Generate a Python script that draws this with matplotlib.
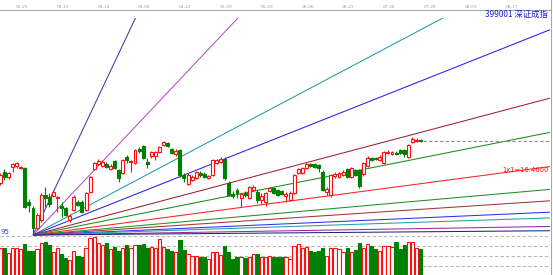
import matplotlib
matplotlib.use("Agg")
import matplotlib.pyplot as plt
from matplotlib.lines import Line2D
import numpy as np

# ---------------- data ----------------
opens = [10215, 10325, 10275, 10375, 10385, 10365, 10365, 10025, 9965, 9765,
         9845, 10095, 10075, 10085, 10065, 9985, 9965, 9845, 9945, 10025,
         10025, 9945, 10125, 10355, 10405, 10385, 10405, 10355, 10435, 10345,
         10315, 10475, 10425, 10415, 10555, 10585, 10425, 10485, 10485, 10525,
         10595, 10615, 10555, 10505, 10545, 10295, 10205, 10245, 10265, 10315,
         10305, 10265, 10295, 10415, 10425, 10455, 10215, 10105, 10145, 10065,
         10115, 10065, 10145, 10125, 10045, 10025, 10135, 10165, 10145, 10135,
         10085, 10045, 10115, 10315, 10315, 10365, 10405, 10405, 10395, 10325,
         10125, 10095, 10285, 10275, 10295, 10355, 10275, 10345, 10345, 10305,
         10385, 10465, 10465, 10445, 10415, 10515, 10505, 10515, 10545, 10545,
         10475, 10625, 10635, 10645]
highs = [10315, 10355, 10325, 10415, 10425, 10385, 10375, 10055, 9985, 9915,
         10115, 10175, 10115, 10145, 10085, 10025, 9975, 9905, 10095, 10045,
         10045, 10125, 10285, 10425, 10455, 10445, 10425, 10405, 10445, 10355,
         10455, 10495, 10445, 10555, 10575, 10595, 10465, 10535, 10535, 10585,
         10635, 10625, 10565, 10555, 10555, 10315, 10315, 10295, 10335, 10335,
         10325, 10295, 10455, 10455, 10475, 10475, 10235, 10135, 10165, 10115,
         10135, 10185, 10195, 10145, 10115, 10125, 10175, 10175, 10155, 10145,
         10125, 10135, 10305, 10365, 10375, 10415, 10415, 10415, 10405, 10345,
         10175, 10305, 10325, 10325, 10345, 10365, 10375, 10355, 10355, 10425,
         10485, 10475, 10475, 10495, 10535, 10545, 10535, 10535, 10555, 10555,
         10605, 10675, 10665, 10655]
lows = [10195, 10245, 10255, 10325, 10365, 10355, 9965, 9925, 9695, 9745,
        9825, 9975, 9975, 10075, 9925, 9875, 9885, 9825, 9935, 9985,
        9915, 9935, 10115, 10345, 10395, 10375, 10365, 10345, 10355, 10225,
        10305, 10415, 10325, 10405, 10515, 10455, 10365, 10465, 10445, 10515,
        10585, 10575, 10505, 10485, 10275, 10225, 10195, 10235, 10255, 10275,
        10265, 10255, 10285, 10405, 10415, 10245, 10085, 10065, 10065, 9975,
        10075, 10055, 10135, 10015, 10005, 9985, 10125, 10105, 10085, 10095,
        10025, 10035, 10105, 10305, 10305, 10355, 10375, 10365, 10325, 10135,
        10095, 10075, 10265, 10265, 10285, 10265, 10265, 10285, 10165, 10285,
        10375, 10435, 10445, 10435, 10405, 10505, 10495, 10495, 10505, 10475,
        10465, 10615, 10625, 10625]
closes = [10295, 10275, 10315, 10405, 10415, 10375, 9975, 9995, 9765, 9895,
          10095, 10065, 10005, 10125, 10075, 9965, 9895, 9885, 10075, 9995,
          9925, 10115, 10275, 10415, 10435, 10425, 10375, 10385, 10365, 10265,
          10445, 10445, 10435, 10545, 10535, 10465, 10405, 10525, 10525, 10575,
          10625, 10585, 10515, 10535, 10295, 10265, 10295, 10275, 10325, 10295,
          10275, 10285, 10445, 10445, 10455, 10265, 10095, 10085, 10115, 10105,
          10095, 10175, 10175, 10045, 10085, 10115, 10165, 10115, 10095, 10105,
          10105, 10115, 10295, 10355, 10365, 10405, 10385, 10375, 10365, 10145,
          10155, 10295, 10305, 10315, 10325, 10275, 10365, 10295, 10185, 10415,
          10465, 10445, 10455, 10475, 10525, 10525, 10525, 10505, 10515, 10505,
          10595, 10655, 10645, 10635]
volumes = [280, 280, 230, 280, 280, 270, 320, 250, 250, 270,
           330, 340, 310, 240, 280, 220, 180, 160, 250, 200,
           190, 280, 380, 390, 330, 310, 330, 270, 290, 250,
           280, 310, 280, 310, 310, 320, 280, 290, 280, 370,
           290, 270, 250, 240, 360, 260, 220, 200, 200, 190,
           190, 170, 240, 240, 210, 300, 240, 170, 190, 190,
           180, 190, 220, 220, 190, 190, 200, 190, 190, 190,
           190, 170, 300, 320, 280, 290, 250, 240, 250, 280,
           200, 280, 280, 270, 240, 280, 240, 260, 330, 280,
           320, 300, 270, 250, 300, 300, 290, 340, 270, 310,
           340, 340, 280, 270]

date_labels = ["02-25", "03-10", "03-24", "04-08", "04-22", "05-09", "05-23",
               "06-06", "06-22", "07-06", "07-20", "08-03", "08-17"]
date_label_idx = [6, 16, 26, 36, 46, 56, 66, 76, 86, 96, 106, 116, 126]

fan_ratios = [16, 8, 4, 3, 2, 1.5, 1, 2/3, 1/2, 1/3, 1/4, 1/8, 1/16]
fan_colors = ["#3a3aa0", "#b84cc8", "#1f9f9f", "#2222f0", "#a0202c", "#159015",
              "#ff2020", "#1f8f25", "#a33535", "#3030f0", "#22a0a0", "#9a2a9a", "#22227a"]
base_slope = 5.4          # 1x1 slope (price per bar)
pivot_idx = 8
pivot_price = 9695

title_text = "399001 深证成指"
gann_label = "1x1=16.4600"
low_label = "95"

# ---------------- figure ----------------
W, H = 553, 275
fig = plt.figure(figsize=(W / 100, H / 100), dpi=100)
fig.patch.set_facecolor("white")

RED = "#ff1010"
GREEN = "#008000"

ax = fig.add_axes([0, 39 / H, 550 / W, 218 / H])
axv = fig.add_axes([0, -1 / H, 550 / W, 40 / H])

xmin, xmax = -0.09, 134.72
ax.set_xlim(xmin, xmax)
axv.set_xlim(xmin, xmax)
ax.set_ylim(9685, 11865)
axv.set_ylim(0, 402)

o = np.array(opens); c = np.array(closes); h = np.array(highs); l = np.array(lows)
idx = np.arange(len(c))
up = c >= o
edge = [RED if u else GREEN for u in up]
face = ["white" if u else GREEN for u in up]

# fan lines
for r, col in zip(fan_ratios, fan_colors):
    s = r * base_slope
    ax.plot([pivot_idx, xmax], [pivot_price, pivot_price + s * (xmax - pivot_idx)],
            color=col, lw=0.75, zorder=1, solid_capstyle="butt")

# candles
ax.vlines(idx, l, h, colors=edge, lw=0.8, zorder=2)
bottoms = np.minimum(o, c)
heights = np.maximum(np.abs(c - o), 6)
ax.bar(idx, heights, bottom=bottoms, width=0.72, color=face, edgecolor=edge,
       linewidth=0.8, zorder=3)

# last price dashed line
ax.hlines(c[-1], idx[-1] + 0.6, xmax, colors="#909090", lw=0.8,
          linestyles=(0, (3, 2)), zorder=1)

# texts
ax.text(xmax - 0.3, 10372, gann_label, ha="right", va="top", color=RED,
        fontsize=4.9, zorder=5)
ax.text(0.0, 9728, low_label, ha="left", va="center", color="#3050c0",
        fontsize=5, zorder=5)
fig.text(548 / W, 1 - 14 / H, title_text, ha="right", va="center", color="#2020d0",
         fontsize=6, family=["Noto Sans CJK SC", "DejaVu Sans"])

# date ticks on top
ax.xaxis.tick_top()
ax.set_xticks([i - 0.7 for i in date_label_idx])
ax.set_xticklabels(date_labels)
ax.tick_params(axis="x", length=0, pad=6.5, labelsize=3.2, labelcolor="#a0a0a0")
ax.set_yticks([])
for sp in ax.spines.values():
    sp.set_visible(False)

# volume
axv.bar(idx, volumes, width=0.8, color=face, edgecolor=edge, linewidth=0.8, zorder=3)
axv.set_yticks([100, 200, 300, 400])
axv.set_xticks([])
axv.tick_params(axis="y", length=0, labelleft=False)
axv.grid(axis="y", color="#b8b8b8", lw=0.8, linestyle=(0, (3, 2)))
axv.set_axisbelow(True)
for sp in axv.spines.values():
    sp.set_visible(False)

# header line and right border
fig.add_artist(Line2D([0, 550.5 / W], [1 - 10 / H, 1 - 10 / H], color="#a8a8a8", lw=0.8))
fig.add_artist(Line2D([550.5 / W, 550.5 / W], [0, 1], color="#a8a8a8", lw=0.8))

fig.savefig("out.png", dpi=100, facecolor="white")
